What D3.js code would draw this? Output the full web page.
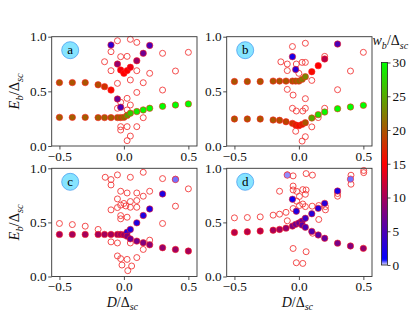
<!DOCTYPE html>
<html><head><meta charset="utf-8">
<script src="https://cdn.jsdelivr.net/npm/d3@7"></script>
<style>body{margin:0;background:#fff}svg{display:block}</style>
</head><body>
<svg id="c" width="415" height="311"></svg>
<script>
// ---------- data: [D/Δsc, Eb/Δsc, wb/Δsc] for filled points, [D, E] for open circles ----------
const aFilled = [
 [-0.5,0.262,20.5],[-0.4,0.262,20.5],[-0.3,0.262,20.5],[-0.2,0.26,20.5],[-0.15,0.26,20.5],[-0.1,0.26,20.5],[-0.05,0.26,20.5],[-0.025,0.26,20.5],[0,0.262,21],
 [0.025,0.28,24],[0.05,0.30,27],[0.1,0.315,29],[0.15,0.33,29.5],[0.2,0.345,30],[0.3,0.363,30],[0.4,0.375,30],[0.5,0.385,30],
 [-0.5,0.58,20],[-0.4,0.58,20],[-0.3,0.58,20],[-0.2,0.56,19.5],[-0.15,0.543,18],[-0.1,0.512,15.5],[-0.05,0.43,7],[-0.025,0.355,5],
 [-0.1,0.924,3.5],[-0.05,0.75,9],[-0.025,0.695,14.5],[0,0.665,15],[0.025,0.69,15],[0.05,0.72,14],[0.1,0.78,9.5],[0.15,0.848,7],[0.2,0.92,5]
];
const aOpen = [
 [-0.05,0.963],[0.05,0.976],[0.1,0.948],[-0.1,0.863],[-0.025,0.817],[0.025,0.82],[-0.15,0.771],[-0.1,0.689],[0.1,0.689],[0.2,0.665],
 [0.05,0.604],[0.15,0.579],[-0.05,0.573],[0.1,0.49],[0.3,0.848],[0.3,0.512],[0.5,0.857],[0.4,0.686],
 [0.025,0.436],[0.05,0.375],[-0.05,0.345],[0.025,0.33],[-0.025,0.40],[0.15,0.259],
 [-0.025,0.177],[-0.025,0.146],[0.025,0.177],[0.1,0.177],[0.05,0.091],[0.025,0.049]
];
const bFilled = [
 [-0.5,0.59,20],[-0.4,0.59,20],[-0.3,0.59,20],[-0.2,0.594,20],[-0.15,0.594,20],[-0.1,0.594,20],[-0.05,0.594,20],[-0.025,0.594,20.5],[0,0.594,21],[0.025,0.61,22],[0.05,0.634,23],
 [0.1,0.68,15.5],[0.15,0.735,15],[0.2,0.796,11],[0.3,0.933,5],
 [-0.05,0.817,2],[-0.025,0.70,3],
 [-0.5,0.247,20],[-0.4,0.247,20],[-0.3,0.247,20],[-0.2,0.238,20],[-0.15,0.235,19.5],[-0.1,0.222,19],[-0.05,0.207,18],[-0.025,0.192,17],[0,0.186,16],[0.025,0.198,17],[0.05,0.213,20],
 [0.1,0.256,25],[0.15,0.287,28],[0.2,0.311,29.5],[0.3,0.341,30],[0.4,0.357,30],[0.5,0.372,30]
];
const bOpen = [
 [-0.14,0.77],[-0.09,0.75],[-0.09,0.69],[-0.05,0.91],[0.05,0.94],[-0.02,0.75],[0.025,0.765],[0.05,0.765],[0,0.665],[0.1,0.6],[0.2,0.82],
 [0.4,0.686],[0.5,0.857],[0.3,0.515],[-0.09,0.518],[-0.045,0.466],[0.05,0.433],[-0.05,0.345],[-0.02,0.32],[0.03,0.32],[0.05,0.345],
 [0.2,0.345],[0.15,0.26],[0.1,0.175],[-0.025,0.135],[0.05,0.085],[0.025,0.045]
];
const cFilled = [
 [-0.5,0.389,10],[-0.4,0.389,10],[-0.3,0.389,10],[-0.2,0.389,10],[-0.15,0.389,10],[-0.1,0.389,10],[-0.05,0.389,10],[-0.025,0.389,10],[0,0.385,9.5],
 [0.025,0.41,3],[0.05,0.435,2.5],[0.1,0.496,2.5],[0.15,0.564,2.5],[0.2,0.624,2.5],[0.3,0.763,2.5],[0.4,0.896,0.4],
 [0.025,0.373,8],[0.05,0.348,7],[0.1,0.327,7.5],[0.15,0.312,8],[0.2,0.293,8.5],[0.3,0.266,9],[0.4,0.25,9.5],[0.5,0.235,10]
];
const cOpen = [
 [-0.5,0.49],[-0.4,0.48],[-0.3,0.465],[-0.2,0.435],[-0.1,0.32],[-0.05,0.31],[0.05,0.31],[0.2,0.336],[0.3,0.49],[0.4,0.65],[0.5,0.81],
 [0.3,0.905],[0.4,0.9],[-0.145,0.917],[-0.1,0.896],[-0.1,0.846],[-0.05,0.939],[0.05,0.917],[0.15,0.963],
 [-0.025,0.788],[0.025,0.772],[0.1,0.772],[0.2,0.788],[0.15,0.742],[0.1,0.702],[0.05,0.693],[-0.05,0.717],[0,0.675],[-0.025,0.66],
 [0.05,0.64],[0.1,0.64],[-0.1,0.616],[-0.05,0.637],[0.015,0.652],[-0.025,0.563],[0.025,0.548],[-0.025,0.533],
 [0.15,0.25],[-0.05,0.19],[-0.025,0.165],[0.025,0.158],[0.1,0.175],[-0.015,0.106],[0.06,0.097],[0.03,0.054]
];
const dFilled = [
 [-0.5,0.407,11],[-0.4,0.413,11],[-0.3,0.42,11],[-0.2,0.428,10],[-0.15,0.435,10],[-0.1,0.447,9],[-0.05,0.466,8],[-0.025,0.482,7],[0,0.494,7],[0.025,0.512,6],
 [0.05,0.538,4],[0.1,0.58,3],[0.15,0.63,3],[0.2,0.676,3],[0.3,0.79,2],[0.4,0.9,0.4],
 [0.025,0.475,6],[0.05,0.455,5],[0.1,0.417,5.5],[0.15,0.384,6],[0.2,0.353,6.5],[0.3,0.308,7.5],[0.4,0.282,8],[0.5,0.26,9],
 [-0.05,0.714,1.5],[-0.02,0.603,2.5],[-0.09,0.937,0.3]
];
const dOpen = [
 [-0.5,0.542],[-0.4,0.545],[-0.3,0.551],[-0.2,0.567],[-0.15,0.576],[-0.1,0.593],[-0.09,0.515],[-0.045,0.628],[-0.09,0.94],[-0.045,0.93],
 [0.056,0.951],[0.105,0.937],[-0.15,0.788],[-0.045,0.836],[-0.045,0.8],[-0.017,0.787],[0.03,0.803],[0.056,0.8],[0.05,0.76],[0.004,0.74],
 [-0.017,0.696],[0.03,0.67],[0.004,0.656],[0.05,0.646],[0.103,0.65],[0.154,0.656],[0.206,0.616],[0.206,0.646],
 [0.3,0.767],[0.3,0.742],[0.404,0.936],[0.404,0.853],[0.503,0.98],[0.503,0.96],[0.106,0.4],[0.154,0.527],
 [-0.045,0.259],[0.056,0.229],[-0.02,0.127],[0.03,0.121],[0.015,0.505]
];
const panelLabels = ["a","b","c","d"];
const xTicks = [-0.5, 0, 0.5];
const yTicks = [0, 0.5, 1];
const cbTicks = [0, 5, 10, 15, 20, 25, 30];

// ---------- layout ----------
const svg = d3.select("#c");
const FONT = "'Liberation Serif','Times New Roman',serif";
const FS = 13.3;
const cmap = d3.scaleLinear().domain([0, 0.8, 15, 30])
  .range(["#e4e4ff", "#0000ff", "#ff0000", "#00ff00"]).interpolate(d3.interpolateRgb);

const panels = [
  {filled: aFilled, open: aOpen, x0: 51.7, y0: 36.7, h: 109.3, lab: panelLabels[0], left: true, bottom: false},
  {filled: bFilled, open: bOpen, x0: 226.7, y0: 36.7, h: 109.3, lab: panelLabels[1], left: false, bottom: false},
  {filled: cFilled, open: cOpen, x0: 51.7, y0: 168.3, h: 108.2, lab: panelLabels[2], left: true, bottom: true},
  {filled: dFilled, open: dOpen, x0: 226.7, y0: 168.3, h: 108.2, lab: panelLabels[3], left: false, bottom: true}
];
const PW = 145.3;

function addMath(t, parts, fs) {
  let sub = false;
  parts.forEach(([txt, s]) => {
    const isSub = s[0] === 's';
    const ts = t.append("tspan").text(txt)
      .attr("font-style", s.endsWith("i") ? "italic" : "normal")
      .attr("font-size", isSub ? fs * 0.72 : fs);
    if (isSub && !sub) ts.attr("dy", fs * 0.25);
    if (!isSub && sub) ts.attr("dy", -fs * 0.25);
    sub = isSub;
  });
}

panels.forEach(p => {
  const x = d3.scaleLinear().domain([-0.56, 0.567]).range([p.x0, p.x0 + PW]);
  const y = d3.scaleLinear().domain([0, 1]).range([p.y0 + p.h, p.y0]);
  const g = svg.append("g");

  // axes
  const xa = g.append("g").attr("transform", `translate(0,${p.y0 + p.h})`)
    .call(d3.axisBottom(x).tickValues(xTicks).tickFormat(d3.format(".1f")).tickSize(3.5).tickPadding(2));
  const ya = g.append("g").attr("transform", `translate(${p.x0},0)`)
    .call(d3.axisLeft(y).tickValues(yTicks).tickFormat(d3.format(".1f")).tickSize(3.5).tickPadding(1.5));
  [xa, ya].forEach(a => {
    a.select(".domain").remove();
    a.selectAll("line").attr("stroke", "#222").attr("stroke-width", 0.8);
    a.selectAll("text").attr("font-family", FONT).attr("font-size", FS).attr("fill", "#111");
  });

  // open circles
  g.append("g").selectAll("circle").data(p.open).join("circle")
    .attr("cx", d => x(d[0])).attr("cy", d => y(d[1])).attr("r", 3)
    .attr("fill", "none").attr("stroke", "#f23a3a").attr("stroke-width", 0.9);
  // filled circles
  g.append("g").selectAll("circle").data(p.filled).join("circle")
    .attr("cx", d => x(d[0])).attr("cy", d => y(d[1])).attr("r", 3.2)
    .attr("fill", d => cmap(d[2])).attr("stroke", "#ff2020").attr("stroke-width", 0.6);

  // frame
  g.append("rect").attr("x", p.x0).attr("y", p.y0).attr("width", PW).attr("height", p.h)
    .attr("fill", "none").attr("stroke", "#333").attr("stroke-width", 0.9);

  // panel label
  const lx = p.x0 + 18.5, ly = p.y0 + 13.5;
  g.append("circle").attr("cx", lx).attr("cy", ly).attr("r", 8.5)
    .attr("fill", "#86e4ff").attr("stroke", "#4aa0f0").attr("stroke-width", 0.8);
  g.append("text").attr("x", lx).attr("y", ly + 4).attr("text-anchor", "middle")
    .attr("font-family", FONT).attr("font-size", 13).text(p.lab);

  // axis labels
  if (p.left) {
    const t = svg.append("text").attr("transform", `translate(19,${p.y0 + p.h / 2}) rotate(-90)`)
      .attr("text-anchor", "middle").attr("font-family", FONT).attr("fill", "#111");
    addMath(t, [["E", "i"], ["b", "si"], ["/Δ", "r"], ["sc", "si"]], 14.5);
  }
  if (p.bottom) {
    const t = svg.append("text").attr("x", p.x0 + PW / 2 - 2).attr("y", 306.5)
      .attr("text-anchor", "middle").attr("font-family", FONT).attr("fill", "#111");
    addMath(t, [["D", "i"], ["/Δ", "r"], ["sc", "si"]], 14);
  }
});

// ---------- colorbar ----------
const cbX = 381.5, cbW = 6, cbTop = 62.5, cbBot = 265;
const cy = d3.scaleLinear().domain([0, 30]).range([cbBot, cbTop]);
const defs = svg.append("defs");
const grad = defs.append("linearGradient").attr("id", "cbg").attr("x1", 0).attr("y1", 1).attr("x2", 0).attr("y2", 0);
d3.range(0, 30.01, 0.25).forEach(v => grad.append("stop").attr("offset", v / 30).attr("stop-color", cmap(v)));
svg.append("rect").attr("x", cbX).attr("y", cbTop).attr("width", cbW).attr("height", cbBot - cbTop)
  .attr("fill", "url(#cbg)").attr("stroke", "#222").attr("stroke-width", 0.8);
const ca = svg.append("g").attr("transform", `translate(${cbX + cbW},0)`)
  .call(d3.axisRight(cy).tickValues(cbTicks).tickFormat(d3.format("d")).tickSize(3).tickPadding(2));
ca.select(".domain").remove();
ca.selectAll("line").attr("stroke", "#222").attr("stroke-width", 0.8);
ca.selectAll("text").attr("font-family", FONT).attr("font-size", FS).attr("fill", "#111");
const cbl = svg.append("text").attr("x", 372.5).attr("y", 45).attr("font-family", FONT).attr("fill", "#111");
addMath(cbl, [["w", "i"], ["b", "si"], ["/Δ", "r"], ["sc", "si"]], 14);
</script>
</body></html>
